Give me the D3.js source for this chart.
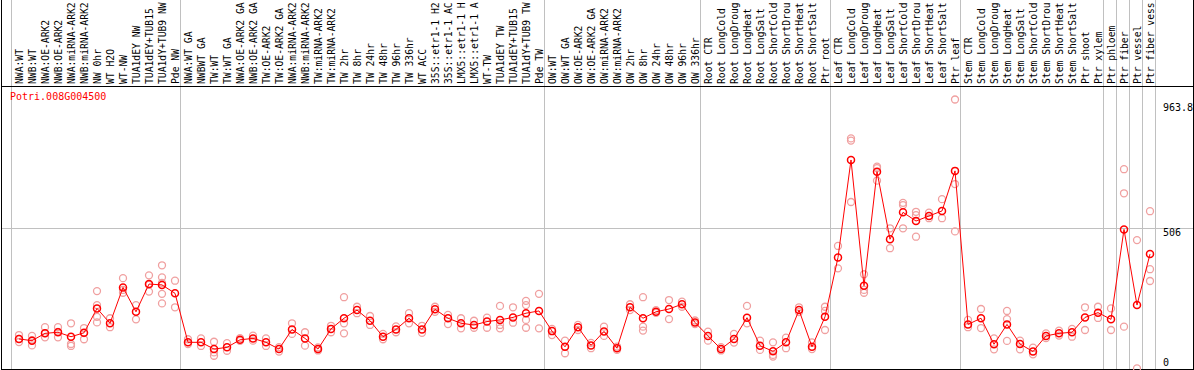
<!DOCTYPE html>
<html><head><meta charset="utf-8">
<script src="https://cdn.jsdelivr.net/npm/d3@7"></script>
<style>html,body{margin:0;padding:0;background:#fff;overflow:hidden}svg{display:block}</style>
</head><body>
<script>
const geneName = "Potri.008G004500";
const categories = [
 "NWA:WT","NWB:WT","NWA:OE-ARK2","NWB:OE-ARK2","NWA:miRNA-ARK2","NWB:miRNA-ARK2","NW 0hr","WT H2O","WT-NW","TUA1dEY NW","TUA1dEY+TUB15 NW","TUA1dY+TUB9 NW","Pde NW",
 "NWA:WT GA","NWBWT GA","TW:WT","TW:WT GA","NWA:OE-ARK2 GA","NWB:OE-ARK2 GA","TW:OE-ARK2","TW:OE-ARK2 GA","NWA:miRNA-ARK2 GA","NWB:miRNA-ARK2 GA","TW:miRNA-ARK2","TW:miRNA-ARK2 GA","TW 2hr","TW 8hr","TW 24hr","TW 48hr","TW 96hr","TW 336hr","WT ACC","35S::etr1-1 H2O","35S::etr1-1 ACC","LMX5::etr1-1 H2O","LMX5::etr1-1 ACC","WT-TW","TUA1dEY TW","TUA1dEY+TUB15 TW","TUA1dY+TUB9 TW","Pde TW",
 "OW:WT","OW:WT GA","OW:OE-ARK2","OW:OE-ARK2 GA","OW:miRNA-ARK2","OW:miRNA-ARK2 GA","OW 2hr","OW 8hr","OW 24hr","OW 48hr","OW 96hr","OW 336hr",
 "Root CTR","Root LongCold","Root LongDrought","Root LongHeat","Root LongSalt","Root ShortCold","Root ShortDrought","Root ShortHeat","Root ShortSalt","Ptr root",
 "Leaf CTR","Leaf LongCold","Leaf LongDrought","Leaf LongHeat","Leaf LongSalt","Leaf ShortCold","Leaf ShortDrought","Leaf ShortHeat","Leaf ShortSalt","Ptr leaf",
 "Stem CTR","Stem LongCold","Stem LongDrought","Stem LongHeat","Stem LongSalt","Stem ShortCold","Stem ShortDrought","Stem ShortHeat","Stem ShortSalt","Ptr shoot",
 "Ptr xylem","Ptr phloem","Ptr fiber","Ptr vessel","Ptr fiber vessel"
];
const means = [
 109,103,129,133,117,131,218,165,293,206,305,302,272,
 97,97,73,79,106,111,97,73,143,111,73,145,183,212,174,117,143,183,143,215,183,165,159,171,177,186,201,209,
 137,81,151,86,136,76,222,183,206,216,233,168,
 120,73,109,185,85,65,97,212,81,188,
 400,748,299,706,465,561,530,548,566,709,
 161,183,90,161,91,64,120,129,133,186,
 203,179,500,230,412
];
const replicates = [
 [123,109,98],[120,86,105],[151,115,130],[151,115,134],[165,91,84],[148,108,130],[280,230,188,168],[183,151],[326,274,284],[230,179],[336,278,302],[372,329,309,270,236],[317,222],
 [108,91],[111,84],[99,61,49],[94,67],[112,102],[121,103],[111,84],[64,80],[165,127],[133,85],[79,68],[156,133],[258,165,129],[224,201],[191,159],[127,108],[154,133],[201,165],[156,131],[224,206],[195,162],[183,147],[174,149],[185,149],[227,159,147],[222,167],[245,230,177,149],[270,147],
 [123,145],[103,58],[159,141],[76,95],[153,120],[82,70],[233,212],[258,153,139],[212,202],[248,180],[242,224],[175,162],
 [135,103],[80,68],[127,96],[227,165],[103,70],[97,46,52],[114,76],[222,205],[97,73],[224,209,141],
 [441,361],[825,817,598],[340,284,274],[724,674,719],[504,433],[595,587,504],[563,551,474],[560,540],[608,540],[963.8,662,493],
 [177,151],[216,148],[111,72],[209,180,102],[103,72],[78,54],[129,112],[139,121],[145,117],[222,141],
 [224,184],[218,141],[715,629,153],[462,4],[565,358,316]
];
const groupStarts = [0,13,41,53,63,73,84,85,86,87,88];
const yTicks = [0,506,963.8];
const yMax = 963.8;
const labelChars = 14; // the label box shows only the first 14 characters

const W = 1194, H = 370;
const svg = d3.select("body").append("svg").attr("width",W).attr("height",H)
  .style("font-family","'DejaVu Sans Mono', monospace");

const x = d3.scalePoint().domain(categories).range([19,1150]);
const step = x.step();
const xi = i => x.range()[0] + i*step;
const y = d3.scaleLinear().domain([0,yMax]).range([369.5,99.5]);

// separators
svg.append("g").selectAll("line").data(groupStarts).join("line")
  .attr("x1",d=>Math.round(xi(d)-8)+0.5).attr("x2",d=>Math.round(xi(d)-8)+0.5)
  .attr("y1",0).attr("y2",369).attr("stroke","#c0c0c0").attr("stroke-width",1);

// horizontal grid at middle tick
svg.append("line").attr("x1",1).attr("x2",1193).attr("y1",Math.round(y(yTicks[1]))+0.5).attr("y2",Math.round(y(yTicks[1]))+0.5)
  .attr("stroke","#c0c0c0");

// frames
svg.append("rect").attr("x",1.5).attr("y",-1).attr("width",1192).attr("height",87.5).attr("fill","none").attr("stroke","#000");
svg.append("rect").attr("x",1.5).attr("y",86.5).attr("width",1192).attr("height",283).attr("fill","none").attr("stroke","#000");

// category labels
svg.append("g").selectAll("text").data(categories).join("text")
  .attr("transform",d=>`translate(${x(d)+3.6},84) rotate(-90)`)
  .attr("font-size","9.7px").attr("fill","#000").text(d=>d.slice(0,labelChars));

// title
svg.append("text").attr("x",10).attr("y",100).attr("font-size","10px").attr("fill","#ff0000").text(geneName);

// y tick labels (right side)
svg.append("g").selectAll("text").data(yTicks).join("text")
  .attr("x",1163).attr("y",d=>Math.max(111,Math.min(366,y(d)+8)))
  .attr("font-size","10px").attr("fill","#000").text(d=>d);

// replicates
const repData = [];
replicates.forEach((r,i)=>r.forEach(v=>repData.push({c:categories[i],v})));
svg.append("g").selectAll("circle").data(repData).join("circle")
  .attr("cx",d=>x(d.c)).attr("cy",d=>y(d.v)).attr("r",3.5)
  .attr("fill","none").attr("stroke","#f0a0a0").attr("stroke-width",1.3);

// mean line
const line = d3.line().x((d,i)=>x(categories[i])).y(d=>y(d));
svg.append("path").datum(means).attr("d",line).attr("fill","none").attr("stroke","#ff0000").attr("stroke-width",1);

// mean points
svg.append("g").selectAll("circle").data(means).join("circle")
  .attr("cx",(d,i)=>x(categories[i])).attr("cy",d=>y(d)).attr("r",3.5)
  .attr("fill","none").attr("stroke","#ff0000").attr("stroke-width",1.5);
</script>
</body></html>
